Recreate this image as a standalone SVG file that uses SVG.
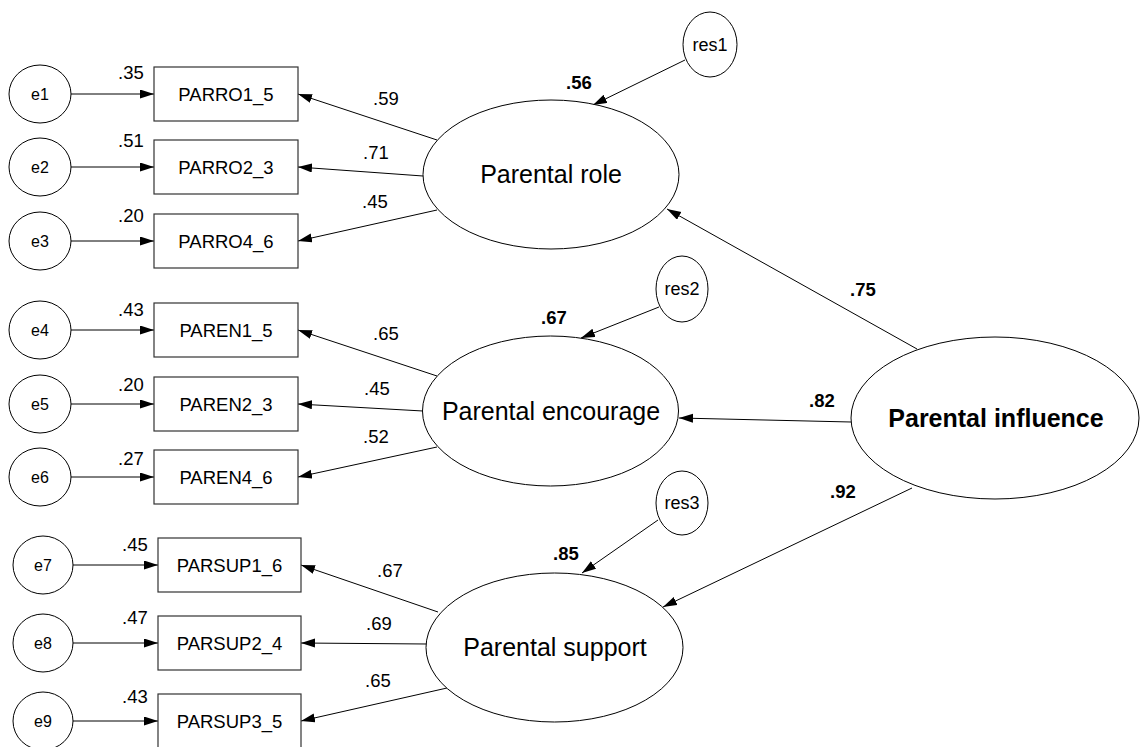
<svg xmlns="http://www.w3.org/2000/svg" width="1141" height="747" viewBox="0 0 1141 747">
  <style>
    .shape { fill: #ffffff; stroke: #000000; stroke-width: 1; }
    .box { fill: #ffffff; stroke: #333333; stroke-width: 1.2; }
    .link { fill: none; stroke: #000000; stroke-width: 1; marker-end: url(#arrow); }
    text { font-family: "Liberation Sans", Arial, sans-serif; fill: #000000; }
    .err { font-size: 16px; text-anchor: middle; }
    .res { font-size: 18px; text-anchor: middle; }
    .ind { font-size: 18.5px; text-anchor: middle; }
    .lat { font-size: 25px; text-anchor: middle; }
    .latb { font-size: 25px; text-anchor: middle; font-weight: bold; }
    .val { font-size: 18.5px; }
    .valb { font-size: 18.5px; font-weight: bold; }
  </style>
  <defs>
    <marker id="arrow" markerUnits="userSpaceOnUse" markerWidth="14" markerHeight="10" refX="14" refY="4.5" orient="auto">
      <path d="M0,0 L14,4.5 L0,9 z" fill="#000000"/>
    </marker>
  </defs>
  <rect width="1141" height="747" fill="#ffffff"/>

  <!-- connectors -->
  <g id="connectors">
    <!-- error terms to indicators -->
    <line class="link" x1="71" y1="94" x2="154" y2="94"/>
    <line class="link" x1="71" y1="167" x2="154" y2="167"/>
    <line class="link" x1="71" y1="241" x2="154" y2="241"/>
    <line class="link" x1="71" y1="330" x2="154" y2="330"/>
    <line class="link" x1="71" y1="404" x2="154" y2="404"/>
    <line class="link" x1="71" y1="477" x2="154" y2="477"/>
    <line class="link" x1="73" y1="565" x2="158" y2="565"/>
    <line class="link" x1="73" y1="643" x2="158" y2="643"/>
    <line class="link" x1="73" y1="721" x2="158" y2="721"/>
    <!-- latent factors to indicators -->
    <line class="link" x1="437" y1="140" x2="298" y2="94"/>
    <line class="link" x1="423" y1="176" x2="298" y2="167"/>
    <line class="link" x1="437" y1="210" x2="298" y2="241"/>
    <line class="link" x1="437" y1="376" x2="298" y2="330"/>
    <line class="link" x1="423" y1="411" x2="298" y2="404"/>
    <line class="link" x1="437" y1="447" x2="298" y2="477"/>
    <line class="link" x1="438" y1="612" x2="301" y2="565"/>
    <line class="link" x1="427" y1="644" x2="301" y2="643"/>
    <line class="link" x1="447" y1="688" x2="301" y2="721"/>
    <!-- residuals -->
    <line class="link" x1="685" y1="60" x2="593" y2="105"/>
    <line class="link" x1="659" y1="307" x2="581" y2="338"/>
    <line class="link" x1="658" y1="520" x2="582" y2="573"/>
    <!-- second-order paths -->
    <line class="link" x1="917" y1="349" x2="667" y2="209"/>
    <line class="link" x1="851" y1="422" x2="679" y2="418"/>
    <line class="link" x1="912" y1="488" x2="663" y2="607"/>
  </g>

  <!-- error terms -->
  <g id="e1"><ellipse class="shape" cx="40" cy="94" rx="31" ry="29"/><text class="err" x="40" y="99.5">e1</text></g>
  <g id="e2"><ellipse class="shape" cx="40" cy="167" rx="31" ry="29"/><text class="err" x="40" y="172.5">e2</text></g>
  <g id="e3"><ellipse class="shape" cx="40" cy="241" rx="31" ry="29"/><text class="err" x="40" y="246.5">e3</text></g>
  <g id="e4"><ellipse class="shape" cx="40" cy="330" rx="31" ry="29"/><text class="err" x="40" y="335.5">e4</text></g>
  <g id="e5"><ellipse class="shape" cx="40" cy="404" rx="31" ry="29"/><text class="err" x="40" y="409.5">e5</text></g>
  <g id="e6"><ellipse class="shape" cx="40" cy="477" rx="31" ry="29"/><text class="err" x="40" y="482.5">e6</text></g>
  <g id="e7"><ellipse class="shape" cx="43" cy="565" rx="30" ry="29"/><text class="err" x="43" y="570.5">e7</text></g>
  <g id="e8"><ellipse class="shape" cx="43" cy="643" rx="30" ry="29"/><text class="err" x="43" y="648.5">e8</text></g>
  <g id="e9"><ellipse class="shape" cx="43" cy="721" rx="30" ry="29"/><text class="err" x="43" y="726.5">e9</text></g>

  <!-- observed indicators -->
  <g id="PARRO1_5"><rect class="box" x="154" y="67" width="144" height="54"/><text class="ind" x="226" y="100.5">PARRO1_5</text></g>
  <g id="PARRO2_3"><rect class="box" x="154" y="140" width="144" height="54"/><text class="ind" x="226" y="173.5">PARRO2_3</text></g>
  <g id="PARRO4_6"><rect class="box" x="154" y="214" width="144" height="54"/><text class="ind" x="226" y="247.5">PARRO4_6</text></g>
  <g id="PAREN1_5"><rect class="box" x="154" y="303" width="144" height="54"/><text class="ind" x="226" y="336.5">PAREN1_5</text></g>
  <g id="PAREN2_3"><rect class="box" x="154" y="377" width="144" height="54"/><text class="ind" x="226" y="410.5">PAREN2_3</text></g>
  <g id="PAREN4_6"><rect class="box" x="154" y="450" width="144" height="54"/><text class="ind" x="226" y="483.5">PAREN4_6</text></g>
  <g id="PARSUP1_6"><rect class="box" x="158" y="538" width="143" height="54"/><text class="ind" x="229.5" y="571.5">PARSUP1_6</text></g>
  <g id="PARSUP2_4"><rect class="box" x="158" y="616" width="143" height="54"/><text class="ind" x="229.5" y="649.5">PARSUP2_4</text></g>
  <g id="PARSUP3_5"><rect class="box" x="158" y="694" width="143" height="54"/><text class="ind" x="229.5" y="727.5">PARSUP3_5</text></g>

  <!-- first-order factors -->
  <g id="parental-role"><ellipse class="shape" cx="551" cy="174.5" rx="128" ry="74.5"/><text class="lat" x="551" y="183">Parental role</text></g>
  <g id="parental-encourage"><ellipse class="shape" cx="550.5" cy="411" rx="128" ry="75"/><text class="lat" x="551" y="419.5">Parental encourage</text></g>
  <g id="parental-support"><ellipse class="shape" cx="554.5" cy="647.5" rx="128.5" ry="74.5"/><text class="lat" x="555" y="656">Parental support</text></g>

  <!-- second-order factor -->
  <g id="parental-influence"><ellipse class="shape" cx="995" cy="418" rx="144" ry="81"/><text class="latb" x="996" y="427">Parental influence</text></g>

  <!-- residuals -->
  <g id="res1"><ellipse class="shape" cx="710" cy="44.5" rx="27" ry="32.5"/><text class="res" x="710" y="50.5">res1</text></g>
  <g id="res2"><ellipse class="shape" cx="682" cy="289" rx="26" ry="33"/><text class="res" x="682" y="295">res2</text></g>
  <g id="res3"><ellipse class="shape" cx="682" cy="503" rx="26" ry="32"/><text class="res" x="682" y="509">res3</text></g>

  <!-- estimates -->
  <g id="estimates">
    <text class="val" x="118" y="79">.35</text>
    <text class="val" x="118" y="147">.51</text>
    <text class="val" x="118" y="222">.20</text>
    <text class="val" x="373" y="105">.59</text>
    <text class="val" x="363" y="159">.71</text>
    <text class="val" x="362" y="208">.45</text>
    <text class="val" x="118" y="316">.43</text>
    <text class="val" x="118" y="391">.20</text>
    <text class="val" x="118" y="465">.27</text>
    <text class="val" x="373" y="340">.65</text>
    <text class="val" x="364" y="395">.45</text>
    <text class="val" x="363" y="443">.52</text>
    <text class="val" x="122" y="551">.45</text>
    <text class="val" x="122" y="624">.47</text>
    <text class="val" x="122" y="703">.43</text>
    <text class="val" x="377" y="577">.67</text>
    <text class="val" x="366" y="630">.69</text>
    <text class="val" x="365" y="687">.65</text>
    <text class="valb" x="566" y="89">.56</text>
    <text class="valb" x="541" y="324">.67</text>
    <text class="valb" x="553" y="560">.85</text>
    <text class="valb" x="850" y="296">.75</text>
    <text class="valb" x="809" y="407">.82</text>
    <text class="valb" x="830" y="498">.92</text>
  </g>
</svg>
